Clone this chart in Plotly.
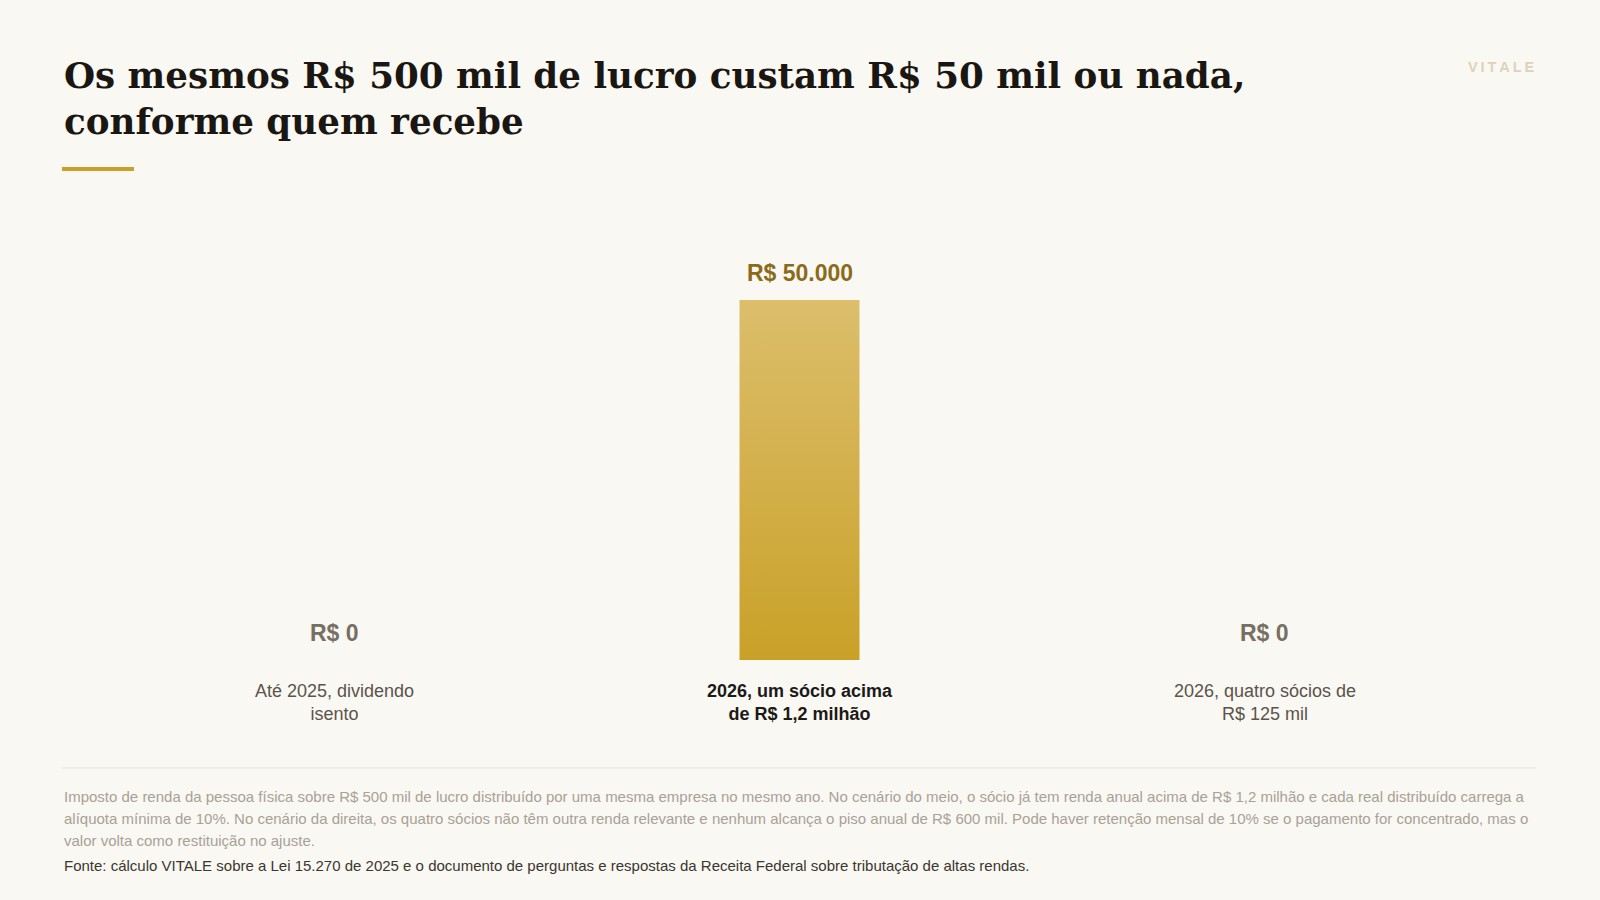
import plotly.graph_objects as go

W, H = 1600, 900

categories = ["Até 2025, dividendo<br>isento",
              "2026, um sócio acima<br>de R$ 1,2 milhão",
              "2026, quatro sócios de<br>R$ 125 mil"]
tax_values = [0, 50000, 0]
value_labels = ["R$ 0", "R$ 50.000", "R$ 0"]
highlight = [False, True, False]

title = "Os mesmos R$ 500 mil de lucro custam R$ 50 mil ou nada,<br>conforme quem recebe"
note_lines = [
    "Imposto de renda da pessoa física sobre R$ 500 mil de lucro distribuído por uma mesma empresa no mesmo ano. No cenário do meio, o sócio já tem renda anual acima de R$ 1,2 milhão e cada real distribuído carrega a",
    "alíquota mínima de 10%. No cenário da direita, os quatro sócios não têm outra renda relevante e nenhum alcança o piso anual de R$ 600 mil. Pode haver retenção mensal de 10% se o pagamento for concentrado, mas o",
    "valor volta como restituição no ajuste.",
]
source = "Fonte: cálculo VITALE sobre a Lei 15.270 de 2025 e o documento de perguntas e respostas da Receita Federal sobre tributação de altas rendas."

BG = "#faf8f3"
SANS = "Liberation Sans, Arial, Helvetica, sans-serif"
SERIF = "Georgia, DejaVu Serif, serif"


def px(x):
    return x / W


def py(y):
    return 1 - y / H


# plot area: baseline at 660px, 50.000 at 300px
y_bottom, y_top = 660, 230
ymax = 50000 * (y_bottom - y_top) / (660 - 300)
half = 0.129

xs, ys = [], []
for i, v in enumerate(tax_values):
    if v <= 0:
        continue
    xs += [i - half, i - half, i + half, i + half, i - half, None]
    ys += [0, v, v, 0, 0, None]

fig = go.Figure()
fig.add_trace(go.Scatter(
    x=xs, y=ys, mode="lines", fill="toself",
    line=dict(width=0, color="rgba(0,0,0,0)"),
    fillgradient=dict(type="vertical",
                      colorscale=[[0, "#c9a128"], [1, "#dcbe6c"]]),
    hoverinfo="skip", showlegend=False,
))

annotations = []
for i, (lab, val, hl) in enumerate(zip(value_labels, tax_values, highlight)):
    annotations.append(dict(
        x=i, y=val, xref="x", yref="y", text=f"<b>{lab}</b>", showarrow=False,
        yanchor="middle", yshift=27,
        font=dict(family=SANS, size=23, color="#8b6b1a" if hl else "#766f64"),
    ))
for i, (cat, hl) in enumerate(zip(categories, highlight)):
    annotations.append(dict(
        x=i, y=0, xref="x", yref="y",
        text=f"<b>{cat}</b>" if hl else cat, showarrow=False,
        yanchor="middle", yshift=-42,
        font=dict(family=SANS, size=18, color="#1c1a17" if hl else "#5a544c"),
    ))

annotations.append(dict(
    x=px(62), y=py(52), xref="paper", yref="paper", text=f"<b>{title}</b>",
    showarrow=False, xanchor="left", yanchor="top", align="left",
    font=dict(family=SERIF, size=35.7, color="#1a1712"),
))
annotations.append(dict(
    x=px(1536), y=py(67), xref="paper", yref="paper",
    text="<b>" + "\u2009".join("VITALE") + "</b>",
    showarrow=False, xanchor="right", yanchor="middle",
    font=dict(family=SANS, size=14.5, color="#ddd3bc"),
))
for k, line in enumerate(note_lines):
    annotations.append(dict(
        x=px(62), y=py(796 + 22 * k), xref="paper", yref="paper", text=line,
        showarrow=False, xanchor="left", yanchor="middle", align="left",
        font=dict(family=SANS, size=15, color="#a8a196"),
    ))
annotations.append(dict(
    x=px(62), y=py(865), xref="paper", yref="paper", text=source,
    showarrow=False, xanchor="left", yanchor="middle", align="left",
    font=dict(family=SANS, size=15, color="#3a3630"),
))

shapes = [
    dict(type="rect", xref="paper", yref="paper", x0=px(62), x1=px(134),
         y0=py(171), y1=py(167), fillcolor="#c9a128", line=dict(width=0)),
    dict(type="line", xref="paper", yref="paper", x0=px(62), x1=px(1536),
         y0=py(768), y1=py(768), line=dict(color="#e9e3d7", width=1)),
]

fig.update_layout(
    width=W, height=H, margin=dict(l=0, r=0, t=0, b=0),
    paper_bgcolor=BG, plot_bgcolor=BG,
    annotations=annotations, shapes=shapes, showlegend=False,
    xaxis=dict(range=[-0.5, 2.5], domain=[px(102), px(1497)], visible=False,
               fixedrange=True),
    yaxis=dict(range=[0, ymax], domain=[py(y_bottom), py(y_top)], visible=False,
               fixedrange=True),
)

fig.write_html(
    "out.html", config={"displayModeBar": False},
    post_script="document.body.style.margin='0';"
                "document.body.style.overflow='hidden';"
                f"document.body.style.background='{BG}';",
)
